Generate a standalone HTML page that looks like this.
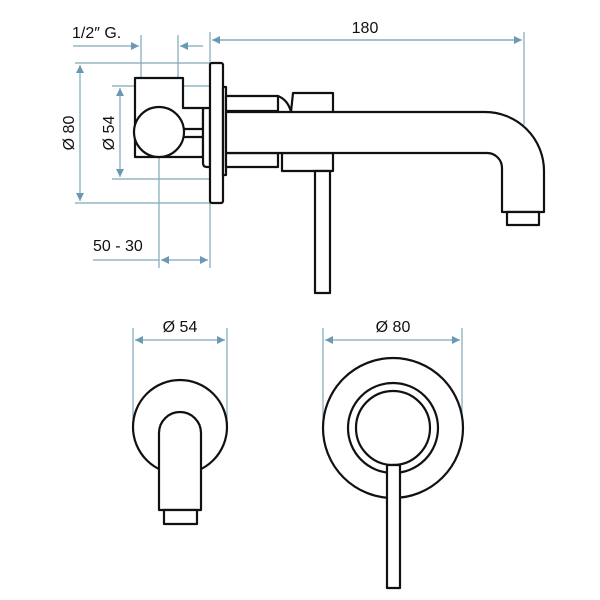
<!DOCTYPE html>
<html><head><style>body{margin:0;background:#fff}svg{display:block}</style></head><body>
<svg width="600" height="600" viewBox="0 0 600 600" xmlns="http://www.w3.org/2000/svg">
<defs>
<marker id="a" viewBox="0 0 10 10" refX="10" refY="5" markerWidth="14" markerHeight="8" orient="auto-start-reverse" markerUnits="userSpaceOnUse"><path d="M0,0L10,5L0,10z" fill="#6a9ab3"/></marker>
</defs>
<g stroke="#7fa6bb" stroke-width="1.2" fill="none">
<line x1="210" y1="32" x2="210" y2="268"/><line x1="524" y1="32" x2="524" y2="125"/>
<line x1="212" y1="40" x2="522" y2="40" marker-start="url(#a)" marker-end="url(#a)" stroke="#6a9ab3"/>
<line x1="141" y1="35" x2="141" y2="78"/><line x1="178" y1="35" x2="178" y2="78"/>
<line x1="73" y1="46" x2="139" y2="46" marker-end="url(#a)"/>
<line x1="203" y1="46" x2="180" y2="46" marker-end="url(#a)"/>
<line x1="75" y1="63" x2="210" y2="63"/><line x1="75" y1="203" x2="210" y2="203"/>
<line x1="80" y1="65" x2="80" y2="201" marker-start="url(#a)" marker-end="url(#a)"/>
<line x1="112" y1="86" x2="210" y2="86"/><line x1="112" y1="179" x2="210" y2="179"/>
<line x1="120" y1="88" x2="120" y2="177" marker-start="url(#a)" marker-end="url(#a)"/>
<line x1="159" y1="157" x2="159" y2="268"/>
<line x1="161" y1="260" x2="208" y2="260" marker-start="url(#a)" marker-end="url(#a)"/>
<line x1="93" y1="260" x2="159" y2="260"/>
<line x1="133" y1="328" x2="133" y2="425"/><line x1="227" y1="328" x2="227" y2="425"/>
<line x1="135" y1="340" x2="225" y2="340" marker-start="url(#a)" marker-end="url(#a)"/>
<line x1="323" y1="328" x2="323" y2="425"/><line x1="462" y1="328" x2="462" y2="425"/>
<line x1="325" y1="340" x2="460" y2="340" marker-start="url(#a)" marker-end="url(#a)"/>
</g>
<g font-family="Liberation Sans, sans-serif" font-size="16" fill="#111">
<text x="365" y="33" text-anchor="middle">180</text>
<text x="72" y="38">1/2″ G.</text>
<text x="93" y="251">50 - 30</text>
<text x="180" y="332" text-anchor="middle">Ø 54</text>
<text x="393" y="332" text-anchor="middle">Ø 80</text>
<text transform="translate(74,133) rotate(-90)" text-anchor="middle">Ø 80</text>
<text transform="translate(114,133) rotate(-90)" text-anchor="middle">Ø 54</text>
</g>
<g stroke="#111" stroke-width="2.2" fill="#fff" stroke-linejoin="round">
<path d="M135,78H183V108H203V157H135Z"/>
<line x1="183" y1="129" x2="203" y2="129"/><line x1="183" y1="137" x2="203" y2="137"/>
<circle cx="159" cy="132" r="25"/>
<path d="M210,108H204Q203,108 203,112V163Q203,167 207,167H210Z"/>
<rect x="210" y="63" width="13" height="140" rx="2"/>
<rect x="223" y="87" width="3" height="88"/>
<rect x="226" y="96" width="52" height="15"/>
<rect x="226" y="153" width="52" height="14"/>
<path d="M278,96Q288,100 291,112" fill="none"/>
<path d="M291,112L293,93H333V112"/>
<rect x="282" y="153" width="51" height="18"/>
<rect x="315" y="171" width="15" height="122"/>
<path d="M226,112H485A59,59 0 0 1 544,171V212H502V168A15,15 0 0 0 487,153H226Z"/>
<rect x="507" y="212" width="32" height="13"/>
<circle cx="180" cy="427" r="47"/>
<path d="M159,510V433A21,21 0 0 1 201,433V510Z"/>
<rect x="164" y="510" width="33" height="14"/>
<circle cx="393" cy="428" r="70"/>
<circle cx="393" cy="428" r="45"/>
<circle cx="393" cy="428" r="37"/>
<rect x="387" y="465" width="13" height="123"/>
</g>
</svg>
</body></html>
